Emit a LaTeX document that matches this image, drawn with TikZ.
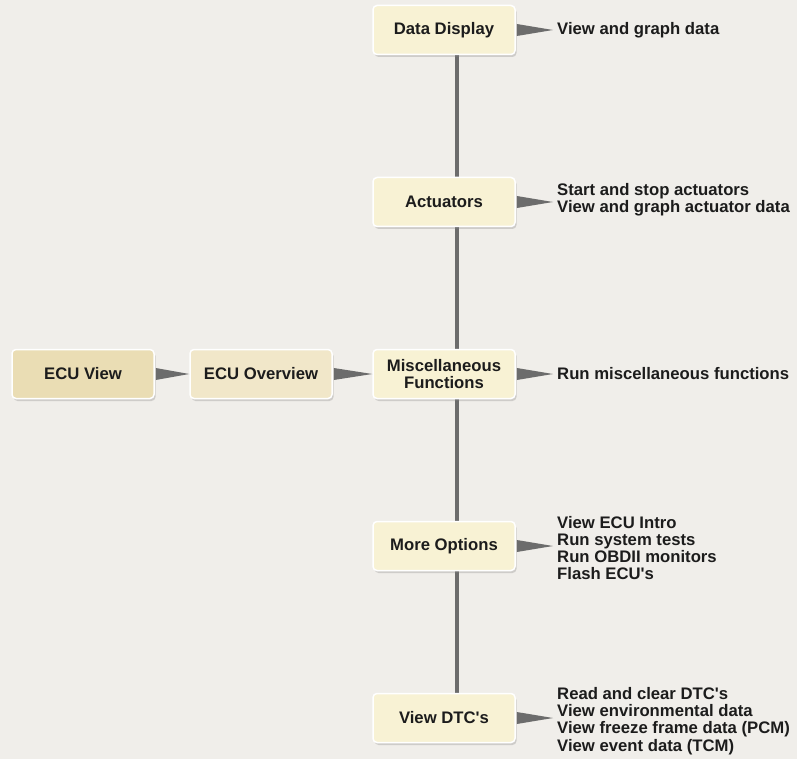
\documentclass[tikz,border=0pt]{standalone}
\usepackage{fontspec}
\setmainfont{Liberation Sans}
\usetikzlibrary{shadows,backgrounds}

\definecolor{bggray}{RGB}{240,238,234}
\definecolor{boxcream}{RGB}{248,242,212}
\definecolor{boxtan}{RGB}{234,221,180}
\definecolor{boxbeige}{RGB}{241,231,201}
\definecolor{linegray}{RGB}{108,108,108}
\definecolor{textdark}{RGB}{28,28,28}

\tikzset{
  menubox/.style={rectangle, rounded corners=4pt, draw=white, line width=1.5pt,
    fill=boxcream, minimum width=142pt, minimum height=49pt, align=center,
    text=textdark, font=\bfseries\fontsize{16.7}{17.5}\selectfont,
    drop shadow={shadow xshift=1.5pt, shadow yshift=-2.5pt, opacity=0.3}},
  infotext/.style={anchor=west, align=left, inner sep=4pt, text=textdark,
    font=\bfseries\fontsize{16.7}{17.3}\selectfont},
  wedge/.style={fill=linegray}
}

\begin{document}
\begin{tikzpicture}[x=1pt, y=-1pt]

  \useasboundingbox (0,0) rectangle (797,759);

  % menu boxes
  \node[menubox, fill=boxtan] (ecuview) at (83,374) {ECU View};
  \node[menubox, fill=boxbeige] (overview) at (261,374) {ECU Overview};

  \node[menubox] (display) at (444,30) {Data Display};
  \node[menubox] (actuators) at (444,202) {Actuators};
  \node[menubox] (misc) at (444,374) {Miscellaneous\\Functions};
  \node[menubox] (options) at (444,546) {More Options};
  \node[menubox] (dtcs) at (444,718) {View DTC\textquotesingle s};

  % descriptions
  \node[infotext] (displaytxt) at (553,30) {View and graph data};
  \node[infotext] (actuatorstxt) at (553,200) {Start and stop actuators\\View and graph actuator data};
  \node[infotext] (misctxt) at (553,374) {Run miscellaneous functions};
  \node[infotext] (optionstxt) at (553,548) {View ECU Intro\\Run system tests\\Run OBDII monitors\\Flash ECU\textquotesingle s};
  \node[infotext] (dtcstxt) at (553,721) {Read and clear DTC\textquotesingle s\\View environmental data\\View freeze frame data (PCM)\\View event data (TCM)};

  \begin{scope}[on background layer]
    \fill[bggray] (0,0) rectangle (797,759);
    \draw[linegray, line width=4pt] ([xshift=13pt]display.south) -- ([xshift=13pt]dtcs.north);
  \end{scope}

  % pointers
  \fill[wedge] ([xshift=1pt, yshift=6pt]ecuview.east) -- (ecuview.east -| overview.west)
    -- ([xshift=1pt, yshift=-6pt]ecuview.east) -- cycle;
  \fill[wedge] ([xshift=1pt, yshift=6pt]overview.east) -- (overview.east -| misc.west)
    -- ([xshift=1pt, yshift=-6pt]overview.east) -- cycle;

  \foreach \menu/\txt in {display/displaytxt, actuators/actuatorstxt, misc/misctxt,
                         options/optionstxt, dtcs/dtcstxt}
    \fill[wedge] ([xshift=1pt, yshift=6pt]\menu.east) -- (\menu.east -| \txt.west)
      -- ([xshift=1pt, yshift=-6pt]\menu.east) -- cycle;

\end{tikzpicture}
\end{document}
